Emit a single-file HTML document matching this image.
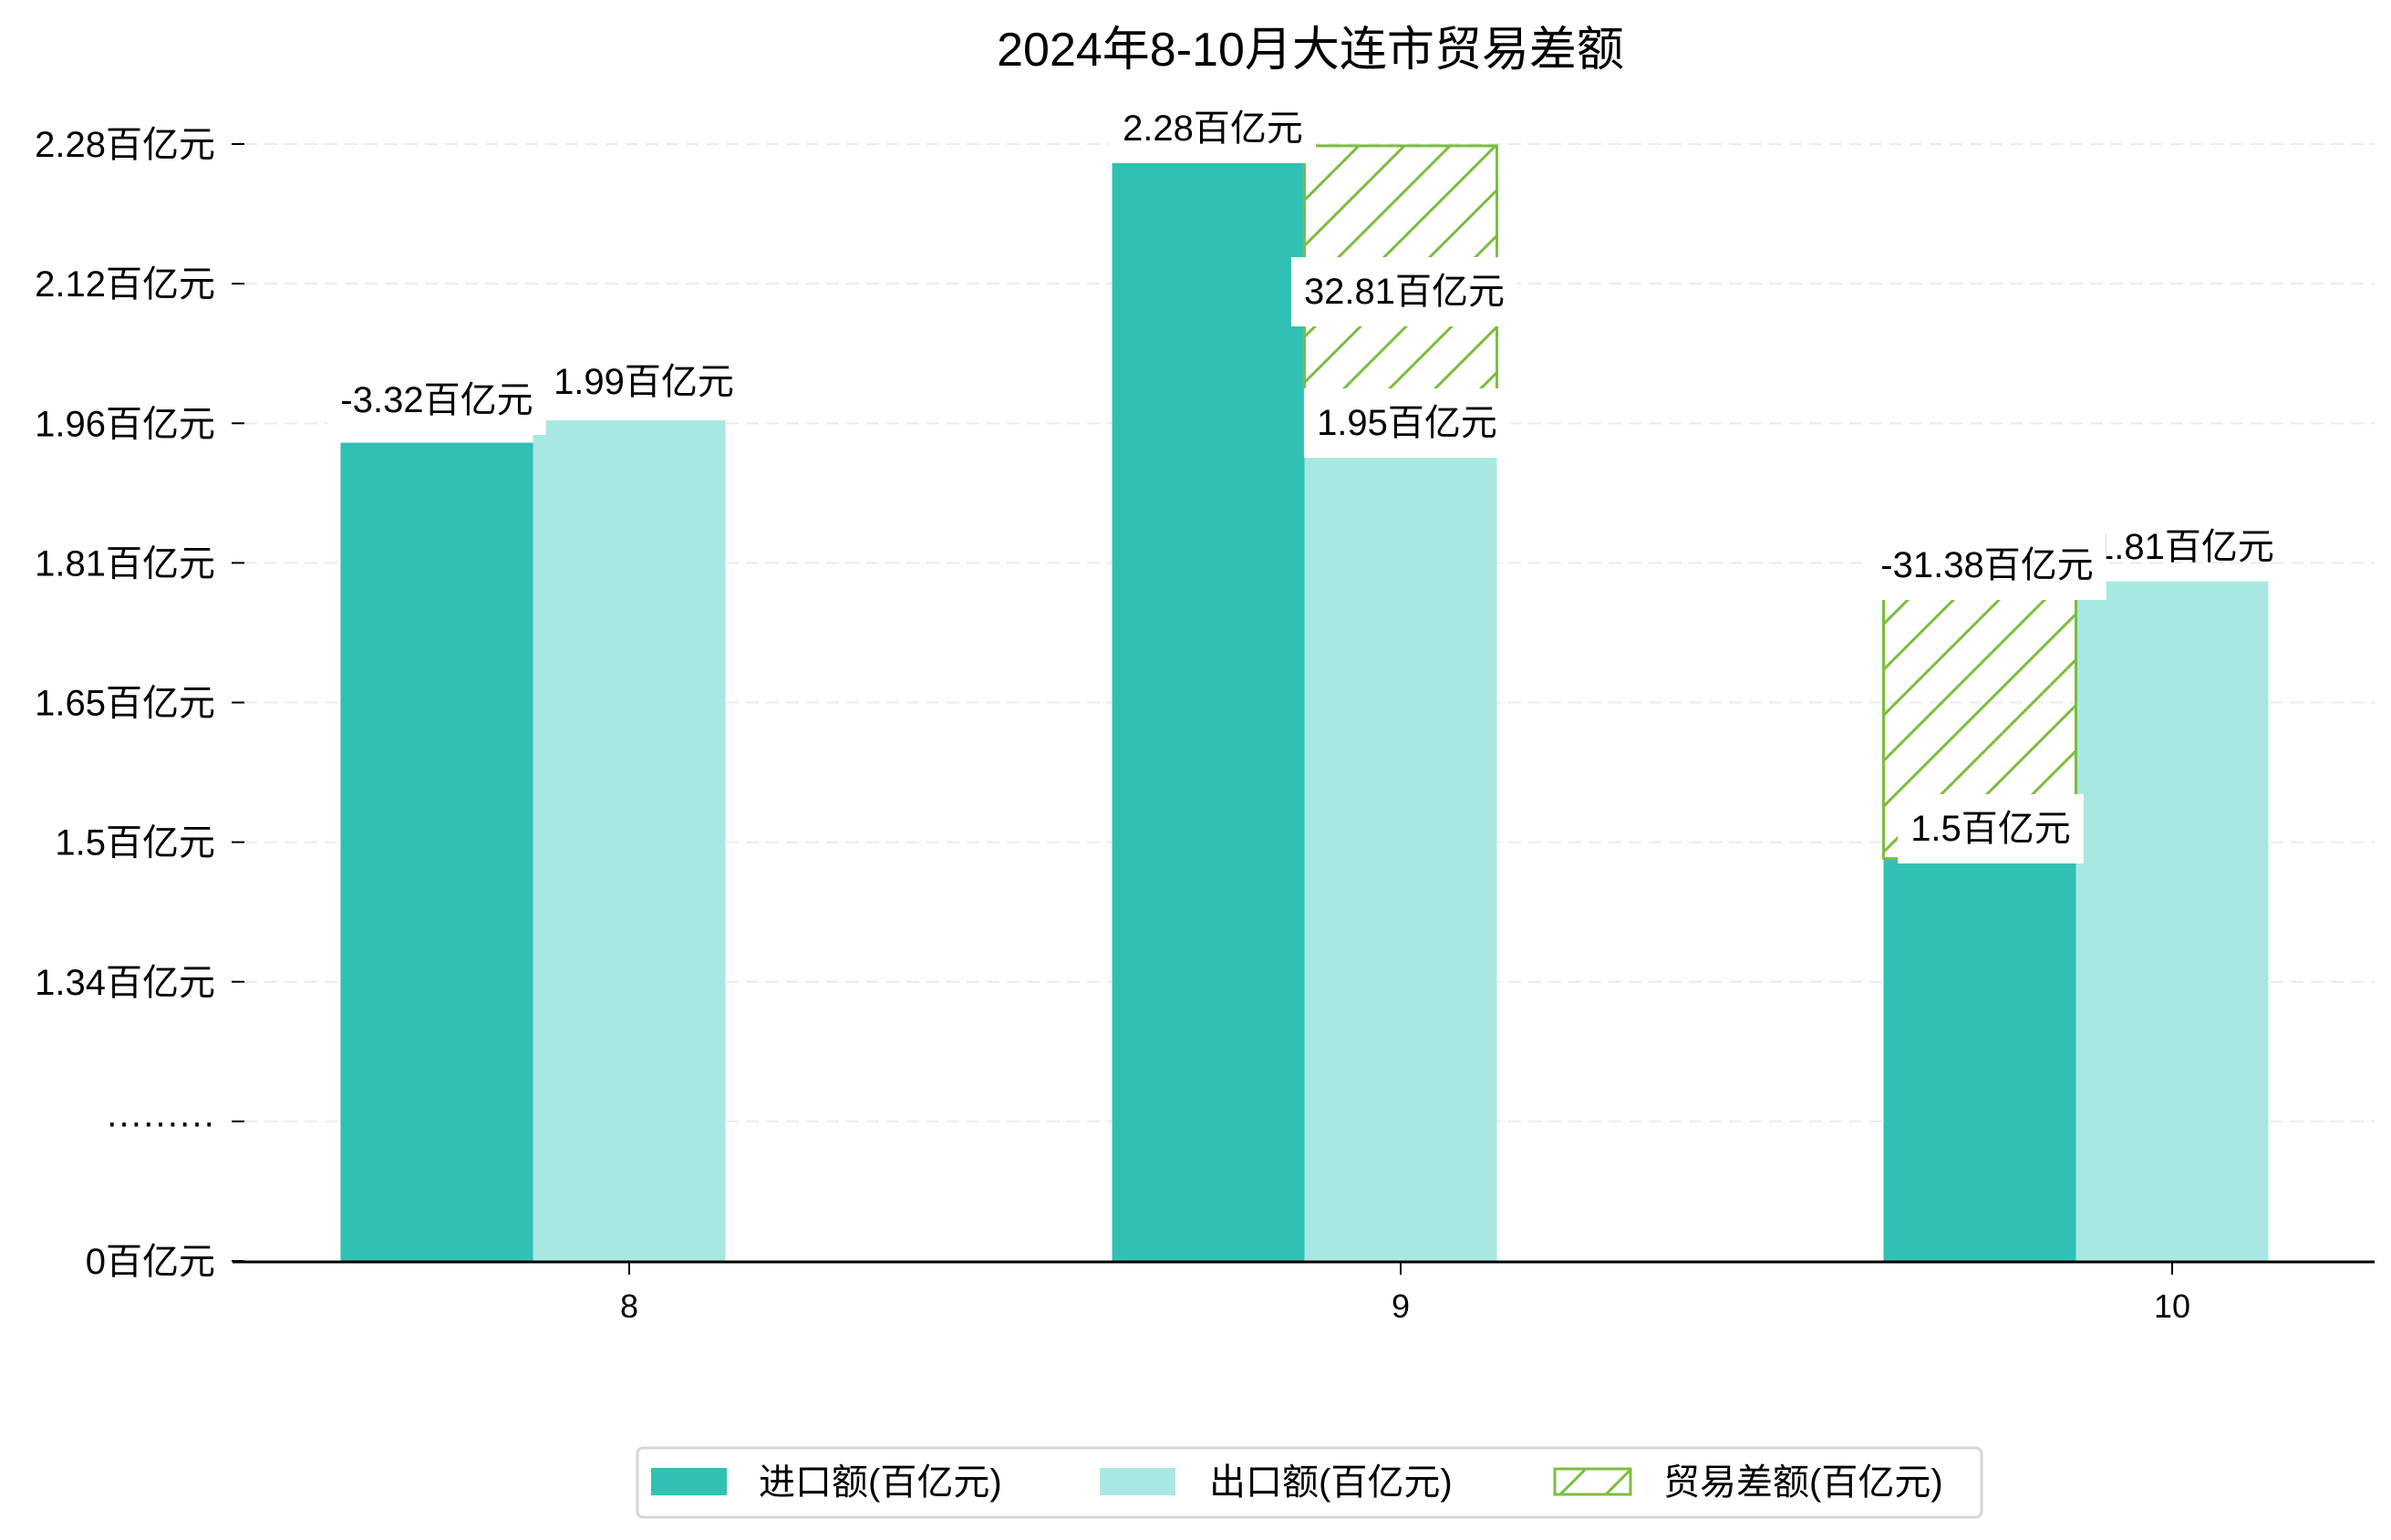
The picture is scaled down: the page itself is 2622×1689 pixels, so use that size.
<!DOCTYPE html>
<html><head><meta charset="utf-8">
<style>
html,body{margin:0;padding:0;background:#fff;}
svg{display:block;font-family:"Liberation Sans","Noto Sans CJK SC",sans-serif;}
</style></head>
<body>
<svg id="chart" width="2622" height="1689" viewBox="0 0 2622 1689" xmlns="http://www.w3.org/2000/svg">
<defs>
<pattern id="hatch" patternUnits="userSpaceOnUse" width="50" height="50">
<path d="M-10,10 L10,-10 M0,50 L50,0 M40,60 L60,40" stroke="#7cbd3f" stroke-width="3"/>
</pattern>
</defs>
<text x="1437" y="72" font-size="52" text-anchor="middle" fill="#000">2024年8-10月大连市贸易差额</text>
<g id="grid"></g>
<g id="bars"></g>
<g id="labels"></g>
<line x1="255" y1="1384" x2="2604" y2="1384" stroke="#000" stroke-width="3"/>
<g id="xticks"></g>
<g id="legend">
<rect x="699" y="1588" width="1474" height="76" rx="6" fill="#fff" stroke="#d6d6d6" stroke-width="3"/>
<rect x="714" y="1610" width="83" height="30" fill="#31c0b4"/>
<text x="832" y="1639" font-size="40">进口额(百亿元)</text>
<rect x="1206" y="1610" width="83" height="30" fill="#a9e8e2"/>
<text x="1326" y="1639" font-size="40">出口额(百亿元)</text>
<rect x="1705" y="1611" width="83" height="28" fill="url(#hatch)" stroke="#7cbd3f" stroke-width="3"/>
<text x="1824" y="1639" font-size="40">贸易差额(百亿元)</text>
</g>
</svg>
<script>
const months = ['8', '9', '10'];
const imports = [1.965, 2.28, 1.5];
const exports = [1.99, 1.95, 1.81];
const balanceLow = [null, 1.95, 1.5];
const balanceHigh = [null, 2.297, 1.794];
const tickLabels = ['2.28百亿元','2.12百亿元','1.96百亿元','1.81百亿元','1.65百亿元','1.5百亿元','1.34百亿元','·········','0百亿元'];

const NS = 'http://www.w3.org/2000/svg';
const Y0 = 1383, K = 980.8, VBASE = 1.05;
function y(v){ return Y0 - (v - VBASE) * K; }
const BW = 211;
function xc(i){ return 690 + i * 846; }
function mk(tag, attrs, parent){
  const e = document.createElementNS(NS, tag);
  for (const k in attrs) e.setAttribute(k, attrs[k]);
  parent.appendChild(e);
  return e;
}
const grid = document.getElementById('grid');
const bars = document.getElementById('bars');
const labels = document.getElementById('labels');
const xt = document.getElementById('xticks');

tickLabels.forEach((t, i) => {
  const ty = 158 + i * (1383 - 158) / (tickLabels.length - 1);
  if (i < tickLabels.length - 1) {
    const g = mk('line', {x1: 268, y1: ty, x2: 2604, y2: ty, stroke: '#ebebeb', 'stroke-width': 2, 'stroke-dasharray': '14,8'}, grid);
    
    
  }
  const m = mk('line', {x1: 254, y1: ty, x2: 268, y2: ty, stroke: '#000', 'stroke-width': 2}, grid);
  
  
  const tx = mk('text', {x: 236, y: ty + 14, 'font-size': 40, 'text-anchor': 'end'}, grid);
  tx.textContent = t;
  
  
});

months.forEach((m, i) => {
  const c = xc(i);
  const ib = mk('rect', {x: c - 1.5 * BW, y: y(imports[i]), width: BW, height: Y0 - y(imports[i]), fill: '#31c0b4'}, bars);
  
  
  const eb = mk('rect', {x: c - 0.5 * BW, y: y(exports[i]), width: BW, height: Y0 - y(exports[i]), fill: '#a9e8e2'}, bars);
  
  
  if (balanceLow[i] !== null) {
    const hx = imports[i] < exports[i] ? c - 1.5 * BW : c - 0.5 * BW;
    const hb = mk('rect', {x: hx, y: y(balanceHigh[i]), width: BW, height: y(balanceLow[i]) - y(balanceHigh[i]), fill: 'url(#hatch)', stroke: '#7cbd3f', 'stroke-width': 3}, bars);
    
    
  }
  const tm = mk('line', {x1: c, y1: 1384, x2: c, y2: 1398, stroke: '#000', 'stroke-width': 2}, xt);
  
  
  const tl = mk('text', {x: c, y: 1445, 'font-size': 36, 'text-anchor': 'middle'}, xt);
  tl.textContent = m;
  
  
});

const valueLabels = [
  ['1.99百亿元', 706, 432, false],
  ['-3.32百亿元', 479, 452, true],
  ['2.28百亿元', 1330, 154, true],
  ['32.81百亿元', 1540, 333, true],
  ['1.95百亿元', 1543, 477, true],
  ['1.81百亿元', 2395, 613, false],
  ['-31.38百亿元', 2179, 633, true],
  ['1.5百亿元', 2183, 922, true]
];
valueLabels.forEach(l => {
  const t = mk('text', {x: l[1], y: l[2], 'font-size': 40, 'text-anchor': 'middle'}, labels);
  t.textContent = l[0];
  
  
  if (l[3]) {
    const bb = t.getBBox();
    const r = mk('rect', {x: bb.x - 14, y: bb.y - 16, width: bb.width + 28, height: bb.height + 32, fill: '#fff'}, labels);
    
    
    labels.insertBefore(r, t);
  }
});
</script>
</body></html>
